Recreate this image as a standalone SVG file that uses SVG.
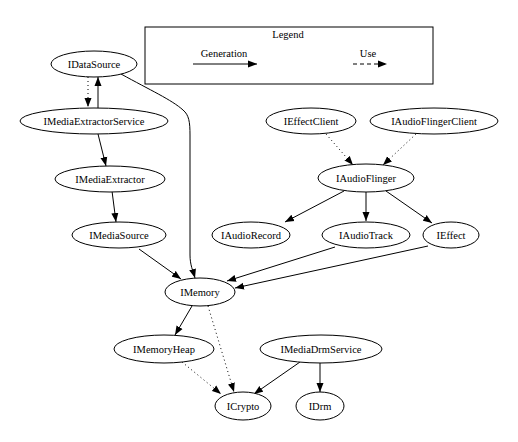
<svg xmlns="http://www.w3.org/2000/svg" width="518" height="442" viewBox="0 0 518 442" font-family="'Liberation Serif', 'Times New Roman', Times, serif">
<style>
text{font-family:'Liberation Serif','Times New Roman',Times,serif;font-size:10.5px;fill:#000;text-anchor:middle}
.n ellipse{fill:#fff;stroke:#000;stroke-width:1}
.e path{fill:none;stroke:#000;stroke-width:1;marker-end:url(#ah)}
.e path.u{stroke-dasharray:1,3}
.lg path{fill:none;stroke:#000;stroke-width:1;marker-end:url(#ah)}
</style>
<defs>
<marker id="ah" markerUnits="userSpaceOnUse" markerWidth="10" markerHeight="8" refX="9" refY="4" orient="auto">
<path d="M0,0.5 L9,4 L0,7.5 Z" fill="#000"/>
</marker>
</defs>
<rect width="518" height="442" fill="#fff"/>
<g id="legend" class="lg">
<rect x="145" y="27" width="288" height="57" fill="#fff" stroke="#000"/>
<text x="288" y="38">Legend</text>
<text x="224" y="57">Generation</text>
<path d="M193,64 L257,64"/>
<text x="368" y="57">Use</text>
<path d="M353,64 L387,64" stroke-dasharray="4,3"/>
</g>
<g id="edges" class="e">
<path class="u" d="M88,77 L88,107"/>
<path d="M98,108 L98,77"/>
<path d="M98,134 L106,166"/>
<path d="M112,191 L116,222"/>
<path d="M121,74 C150,90 172,100 183,110 C189,115 190,122 190,135 L190,255 C190,265 193,271 195,278"/>
<path d="M139,249 L181,279"/>
<path d="M335,247 L227,281"/>
<path d="M428,246 L235,288"/>
<path d="M192,306 L175,335"/>
<path class="u" d="M208,306 L234,392"/>
<path class="u" d="M182,362 L221,394"/>
<path d="M300,362 L254,394"/>
<path d="M320,363 L320,392"/>
<path class="u" d="M326,134 L353,165"/>
<path class="u" d="M416,134 L383,165"/>
<path d="M344,191 L285,222"/>
<path d="M366,192 L366,221"/>
<path d="M386,191 L432,223"/>
</g>
<g id="IDataSource" class="n"><ellipse cx="94" cy="64" rx="43" ry="13"/><text x="94" y="68">IDataSource</text></g>
<g id="IMediaExtractorService" class="n"><ellipse cx="94" cy="121" rx="74" ry="13"/><text x="94" y="125">IMediaExtractorService</text></g>
<g id="IMediaExtractor" class="n"><ellipse cx="110" cy="179" rx="55" ry="13"/><text x="110" y="183">IMediaExtractor</text></g>
<g id="IMediaSource" class="n"><ellipse cx="119" cy="235" rx="47" ry="13"/><text x="119" y="239">IMediaSource</text></g>
<g id="IMemory" class="n"><ellipse cx="200" cy="292" rx="35" ry="14"/><text x="200" y="296">IMemory</text></g>
<g id="IMemoryHeap" class="n"><ellipse cx="164" cy="349" rx="50" ry="14"/><text x="164" y="353">IMemoryHeap</text></g>
<g id="ICrypto" class="n"><ellipse cx="243" cy="406" rx="28" ry="14"/><text x="243" y="410">ICrypto</text></g>
<g id="IDrm" class="n"><ellipse cx="320" cy="406" rx="24" ry="14"/><text x="320" y="410">IDrm</text></g>
<g id="IMediaDrmService" class="n"><ellipse cx="321" cy="349" rx="61" ry="14"/><text x="321" y="353">IMediaDrmService</text></g>
<g id="IAudioRecord" class="n"><ellipse cx="251" cy="235" rx="39" ry="13"/><text x="251" y="239">IAudioRecord</text></g>
<g id="IAudioTrack" class="n"><ellipse cx="366" cy="235" rx="44" ry="13"/><text x="366" y="239">IAudioTrack</text></g>
<g id="IEffect" class="n"><ellipse cx="451" cy="235" rx="28" ry="13"/><text x="451" y="239">IEffect</text></g>
<g id="IAudioFlinger" class="n"><ellipse cx="366" cy="178" rx="48" ry="14"/><text x="366" y="182">IAudioFlinger</text></g>
<g id="IEffectClient" class="n"><ellipse cx="311" cy="121" rx="45" ry="13"/><text x="311" y="125">IEffectClient</text></g>
<g id="IAudioFlingerClient" class="n"><ellipse cx="434" cy="121" rx="64" ry="13"/><text x="434" y="125">IAudioFlingerClient</text></g>
</svg>
